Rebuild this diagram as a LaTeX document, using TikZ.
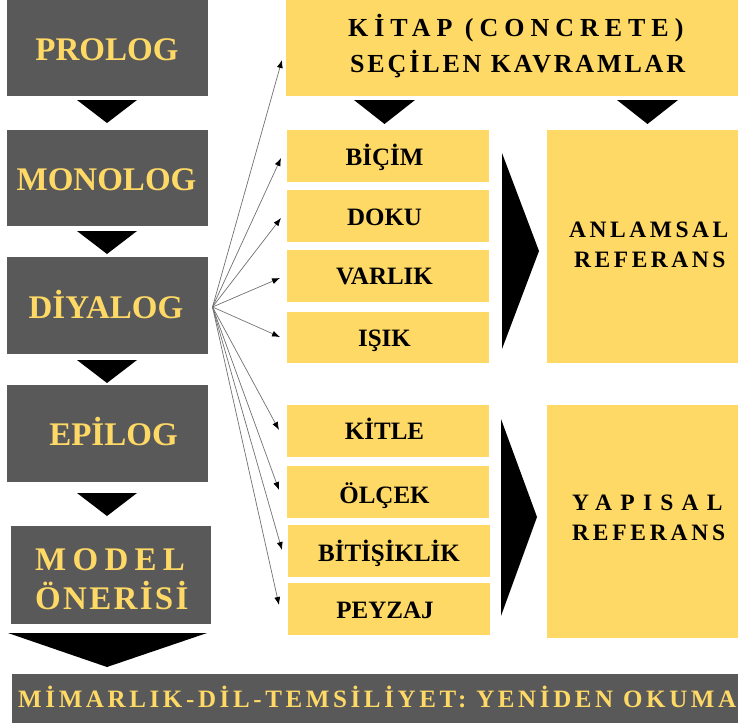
\documentclass[tikz,border=0pt]{standalone}
\usepackage{fontspec}
\setmainfont{Liberation Serif}
\usetikzlibrary{arrows.meta}
\definecolor{darkbox}{HTML}{595959}
\definecolor{ybox}{HTML}{FFD966}
\definecolor{linegray}{HTML}{707070}
\begin{document}
\begin{tikzpicture}[x=1pt,y=-1pt,
  dbox/.style={fill=darkbox, draw=none, inner sep=0, outer sep=0},
  ybx/.style={fill=ybox, draw=none, inner sep=0, outer sep=0},
  dtext/.style={text=ybox, font=\bfseries\fontsize{33}{33}\selectfont, inner sep=0, anchor=base},
  stext/.style={text=black, font=\bfseries\fontsize{25}{25}\selectfont, inner sep=0, anchor=base},
  ttext/.style={text=black, font=\bfseries\fontsize{26}{26}\selectfont, inner sep=0, anchor=base west},
  rtext/.style={text=black, font=\bfseries\fontsize{23.5}{23.5}\selectfont, inner sep=0, anchor=base west},
  tri/.style={fill=black, draw=none},
  arr/.style={draw=linegray, line width=0.7pt, -{Latex[length=8pt,width=6pt,color=black]}}]
\useasboundingbox (0,0) rectangle (738,725);

% dark boxes
\node[dbox, minimum width=201pt, minimum height=96pt] (prolog) at (107.5,48) {};
\node[dbox, minimum width=201pt, minimum height=96pt] (monolog) at (107.5,178) {};
\node[dbox, minimum width=201pt, minimum height=97pt] (diyalog) at (107.5,305.5) {};
\node[dbox, minimum width=201pt, minimum height=97pt] (epilog) at (107.5,433.5) {};
\node[dbox, minimum width=200pt, minimum height=98pt] (model) at (111,575) {};
\node[dbox, minimum width=726pt, minimum height=49pt] (bottom) at (375,698.5) {};

\node[dtext] (tprolog) at (107,60) {PROLOG};
\node[dtext] (tmonolog) at (106.5,190) {MONOLOG};
\node[dtext] (tdiyalog) at (106,318) {DİYALOG};
\node[dtext] (tepilog) at (113.5,445) {EPİLOG};
\node[dtext, anchor=base west] (tmodel) at (35,570) {\addfontfeature{LetterSpace=19}MODEL};
\node[dtext, anchor=base west] (toneri) at (35,609) {\addfontfeature{LetterSpace=7}ÖNERİSİ};
\node[text=ybox, font=\bfseries\fontsize{25}{25}\selectfont, inner sep=0, anchor=base west] (tbottom) at (18,707.5)
  {\addfontfeature{LetterSpace=14.5}MİMARLIK-DİL-TEMSİLİYET: YENİDEN OKUMA};

% yellow boxes
\node[ybx, minimum width=452pt, minimum height=96pt] (top) at (512,48) {};
\node[ttext] (ttop1) at (348,37) {\addfontfeature{LetterSpace=23}KİTAP (CONCRETE)};
\node[ttext] (ttop2) at (350,72) {\addfontfeature{LetterSpace=11}SEÇİLEN KAVRAMLAR};

\node[ybx, minimum width=202pt, minimum height=52pt] (bicim) at (388,156) {};
\node[ybx, minimum width=202pt, minimum height=52pt] (doku) at (388,216) {};
\node[ybx, minimum width=202pt, minimum height=52pt] (varlik) at (388,276) {};
\node[ybx, minimum width=202pt, minimum height=51pt] (isik) at (388,337.5) {};
\node[ybx, minimum width=202pt, minimum height=52pt] (kitle) at (388,431) {};
\node[ybx, minimum width=202pt, minimum height=52pt] (olcek) at (388,492) {};
\node[ybx, minimum width=202pt, minimum height=52pt] (bitis) at (388.5,551) {};
\node[ybx, minimum width=202pt, minimum height=52pt] (peyzaj) at (389,609) {};

\node[stext] (tbicim) at (384.5,165) {BİÇİM};
\node[stext] (tdoku) at (384.5,225) {DOKU};
\node[stext] (tvarlik) at (384.5,284) {VARLIK};
\node[stext] (tisik) at (384.5,346) {IŞIK};
\node[stext] (tkitle) at (384.5,439) {KİTLE};
\node[stext] (tolcek) at (384.5,503) {ÖLÇEK};
\node[stext] (tbitis) at (389,561) {BİTİŞİKLİK};
\node[stext] (tpeyzaj) at (385,618) {PEYZAJ};

\node[ybx, minimum width=191pt, minimum height=233pt] (anlam) at (642.5,246.5) {};
\node[ybx, minimum width=191pt, minimum height=233pt] (yapi) at (642.5,521.5) {};
\node[rtext] (tanlam1) at (569,237) {\addfontfeature{LetterSpace=15}ANLAMSAL};
\node[rtext] (tanlam2) at (574,267) {\addfontfeature{LetterSpace=15}REFERANS};
\node[rtext] (tyapi1) at (572,510) {\addfontfeature{LetterSpace=35}YAPISAL};
\node[rtext] (tyapi2) at (572,540) {\addfontfeature{LetterSpace=16}REFERANS};

% triangles
\fill[tri] (77,100) -- (137,100) -- (107,123) -- cycle;
\fill[tri] (77,231) -- (137,231) -- (107,254) -- cycle;
\fill[tri] (77,360) -- (137,360) -- (107,383) -- cycle;
\fill[tri] (77,493) -- (137,493) -- (107,516) -- cycle;
\fill[tri] (8,633) -- (207,633) -- (107,667) -- cycle;
\fill[tri] (354,100) -- (415,100) -- (384.5,124) -- cycle;
\fill[tri] (617,100) -- (678,100) -- (647.5,124) -- cycle;
\fill[tri] (502,153) -- (539,251) -- (502,349) -- cycle;
\fill[tri] (501,419) -- (537,517) -- (501,616) -- cycle;

% connectors
\coordinate (hub) at ([xshift=4.5pt,yshift=-1.5pt]diyalog.east);
\coordinate (e0) at ([xshift=-4pt,yshift=-12pt]top.west);
\coordinate (e1) at ([xshift=-6pt,yshift=-2pt]bicim.west);
\coordinate (e2) at ([xshift=-6pt,yshift=-2pt]doku.west);
\coordinate (e3) at ([xshift=-7pt,yshift=-2pt]varlik.west);
\coordinate (e4) at ([xshift=-7pt,yshift=0.5pt]isik.west);
\coordinate (e5) at ([xshift=-8pt,yshift=1pt]kitle.west);
\coordinate (e6) at ([xshift=-8pt,yshift=2pt]olcek.west);
\coordinate (e7) at ([xshift=-5.5pt,yshift=1pt]bitis.west);
\coordinate (e8) at ([xshift=-9pt,yshift=4pt]peyzaj.west);
\foreach \e in {e0,e1,e2,e3,e4,e5,e6,e7,e8}
  \draw[arr] (hub) -- (\e);
\end{tikzpicture}
\end{document}
